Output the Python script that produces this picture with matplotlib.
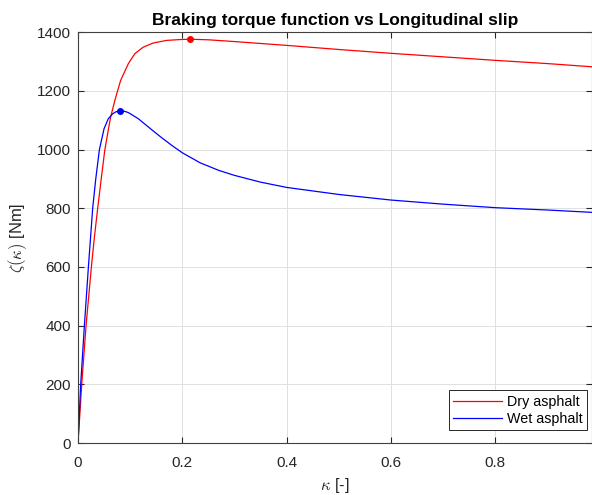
import matplotlib
matplotlib.use("Agg")
import matplotlib.pyplot as plt

# slip values and braking torque
kappa_dry = [0, 0.0071, 0.0154, 0.0256, 0.0313, 0.0377, 0.0445, 0.0511, 0.058,
             0.0627, 0.071, 0.0818, 0.0966, 0.109, 0.125, 0.144, 0.170, 0.197,
             0.2148, 0.25, 0.3, 0.4, 0.5, 0.6, 0.7, 0.8, 0.9, 0.986]
torque_dry = [0, 200, 400, 600, 700, 800, 900, 995, 1067,
              1112, 1170, 1236, 1293, 1327, 1349, 1363, 1372, 1375,
              1376, 1374, 1368, 1355, 1341, 1328, 1316, 1304, 1293, 1282]

kappa_wet = [0, 0.0051, 0.0122, 0.0199, 0.0236, 0.0281, 0.034, 0.041, 0.0499,
             0.058, 0.0665, 0.073, 0.0805, 0.088, 0.0966, 0.1157, 0.141, 0.16,
             0.18, 0.2, 0.234, 0.27, 0.3, 0.35, 0.4, 0.5, 0.6, 0.7, 0.8, 0.9,
             0.986]
torque_wet = [0, 200, 400, 600, 690, 800, 900, 1000, 1071,
              1105, 1122, 1129, 1132, 1131, 1126, 1105, 1068, 1041,
              1014, 989, 955, 929, 912, 889, 871, 847, 828, 814, 802, 794,
              786]

peak_dry = (0.2148, 1376)
peak_wet = (0.0805, 1132)

plt.rcParams['font.family'] = ['Liberation Sans', 'DejaVu Sans']
plt.rcParams['mathtext.fontset'] = 'cm'

fig = plt.figure(figsize=(5.92, 4.95), dpi=100)
ax = fig.add_axes([0.1318, 0.105, 0.8682, 0.83])

ax.plot(kappa_dry, torque_dry, color='red', lw=0.9, label='Dry asphalt')
ax.plot(kappa_wet, torque_wet, color='blue', lw=0.9, label='Wet asphalt')
ax.plot(*peak_dry, 'o', color='red', ms=4)
ax.plot(*peak_wet, 'o', color='blue', ms=4)

ax.set_xlim(0, 0.9856)
ax.set_ylim(0, 1400)
ax.set_xticks([0, 0.2, 0.4, 0.6, 0.8])
ax.set_xticklabels(['0', '0.2', '0.4', '0.6', '0.8'])
ax.set_yticks(range(0, 1401, 200))

ax.grid(True, color='#e0e0e0', lw=0.7)
ax.set_axisbelow(True)
ax.tick_params(direction='in', top=True, right=True, labelsize=11,
               colors='#262626', length=4)
ax.tick_params(axis='x', pad=9)
ax.tick_params(axis='y', pad=5)
for s in ax.spines.values():
    s.set_color('#404040')
    s.set_linewidth(0.8)

ax.set_title('Braking torque function vs Longitudinal slip',
             fontsize=12.5, fontweight='bold', pad=5)
ax.set_xlabel(r'$\kappa$ [-]', fontsize=12, color='#262626', labelpad=5)
ax.set_ylabel(r'$\zeta(\kappa)$ [Nm]', fontsize=12, color='#262626', labelpad=6)

leg = ax.legend(loc='lower right', bbox_to_anchor=(0.991, 0.032),
                borderaxespad=0, fontsize=10.3, fancybox=False,
                edgecolor='#262626', framealpha=1, handlelength=3.4,
                handletextpad=0.4, borderpad=0.3, labelspacing=0.2)
leg.get_frame().set_linewidth(0.7)

fig.savefig('out.png', dpi=100)
